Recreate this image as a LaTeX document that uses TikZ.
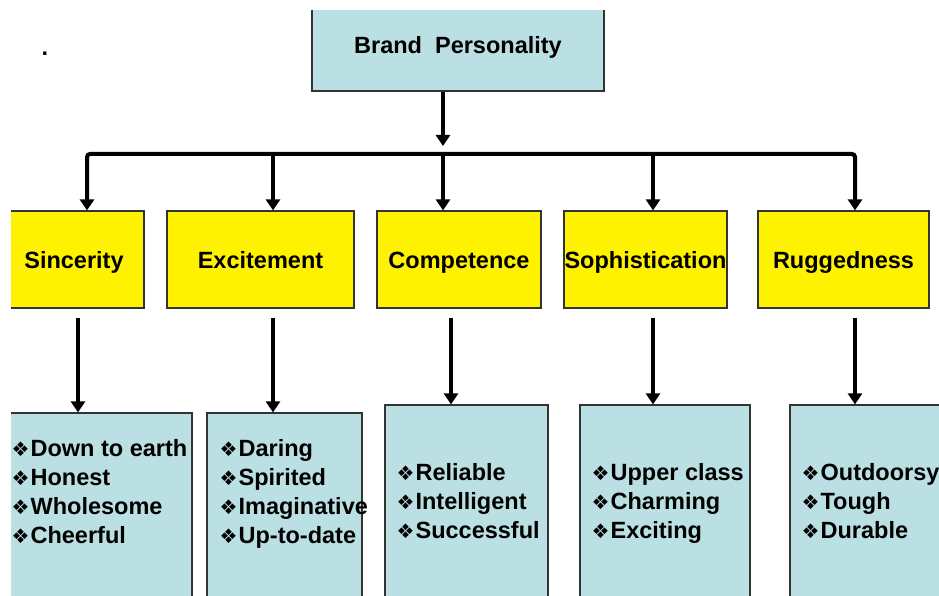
\documentclass[tikz,border=0pt]{standalone}
\usepackage{fontspec}
\setmainfont{Liberation Sans}
\newfontfamily\dingfont{DejaVu Sans}
\usetikzlibrary{positioning}
\usetikzlibrary{arrows.meta}
\definecolor{paleblue}{RGB}{187,224,227}
\definecolor{boxline}{RGB}{51,51,51}
\newcommand{\trait}{\makebox[19pt][l]{\dingfont\fontsize{20}{20}\selectfont ❖}}
\tikzset{
  x=1pt, y=-1pt,
  txt/.style = {font=\bfseries\fontsize{23.5}{29}\selectfont},
  box/.style = {rectangle, draw=boxline, line width=1.2pt, inner sep=0pt},
  head/.style = {box, txt, fill=paleblue, text height=17pt, text depth=0pt},
  dim/.style = {box, txt, fill=yellow, text height=17pt, text depth=0pt,
    minimum height=97pt},
  list/.style = {box, fill=paleblue},
  % anchor sits on the last line of the list
  items/.style = {txt, align=left, inner sep=0pt, anchor=base west},
  link/.style = {line width=4pt, -{Triangle[width=14pt,length=11pt]}},
}

\begin{document}
\begin{tikzpicture}
\useasboundingbox (0,0) rectangle (939,596);
\clip (11,11) rectangle (939,596);
\node[txt] (dot) at (45,54) {.};
\node[head, minimum width=292pt, minimum height=91pt] (BP) at (458,45.5) {Brand\ \ Personality};

% the five dimensions
\node[dim, minimum width=140pt] (S1) at (74,259.5) {Sincerity};
\node[dim, minimum width=187pt] (S2) at (260.5,259.5) {Excitement};
\node[dim, minimum width=164pt] (S3) at (459,259.5) {Competence};
\node[dim, minimum width=163pt] (S4) at (645.5,259.5) {Sophistication};
\node[dim, minimum width=171pt] (S5) at (843.5,259.5) {Ruggedness};

% facet boxes
\node[list, minimum width=192pt, minimum height=197pt] (T1) at (96,511.5) {};
\node[list, minimum width=155pt, minimum height=197pt] (T2) at (284.5,511.5) {};
\node[list, minimum width=163pt, minimum height=205pt] (T3) at (466.5,507.5) {};
\node[list, minimum width=170pt, minimum height=205pt] (T4) at (665,507.5) {};
\node[list, minimum width=170pt, minimum height=205pt] (T5) at (875,507.5) {};

\node[items, xshift=12pt, yshift=-131pt] (I1) at (T1.north west)
  {\trait Down to earth\\ \trait Honest\\ \trait Wholesome\\ \trait Cheerful};
\node[items, xshift=13pt, yshift=-131pt] (I2) at (T2.north west)
  {\trait Daring\\ \trait Spirited\\ \trait Imaginative\\ \trait Up-to-date};
\node[items, xshift=12pt, yshift=-134pt] (I3) at (T3.north west)
  {\trait Reliable\\ \trait Intelligent\\ \trait Successful};
\node[items, xshift=12pt, yshift=-134pt] (I4) at (T4.north west)
  {\trait Upper class\\ \trait Charming\\ \trait Exciting};
\node[items, xshift=12pt, yshift=-134pt] (I5) at (T5.north west)
  {\trait Outdoorsy\\ \trait Tough\\ \trait Durable};

\coordinate (b1) at (87,154);
\coordinate (b2) at (273,154);
\coordinate (b3) at (443,154);
\coordinate (b4) at (653,154);
\coordinate (b5) at (855,154);
\coordinate (c1) at (78,0);
\coordinate (c3) at (451,0);

\draw[link, shorten >=8pt] (BP.south -| b3) -- (b3);
\draw[link, rounded corners=3pt] (b3) -| (S1.north -| b1);
\draw[link, rounded corners=3pt] (b3) -| (S5.north -| b5);
\draw[link] (b2) -- (S2.north -| b2);
\draw[link] (b3) -- (S3.north -| b3);
\draw[link] (b4) -- (S4.north -| b4);

\draw[link, shorten <=9pt] (S1.south -| c1) -- (T1.north -| c1);
\draw[link, shorten <=9pt] (S2.south -| b2) -- (T2.north -| b2);
\draw[link, shorten <=9pt] (S3.south -| c3) -- (T3.north -| c3);
\draw[link, shorten <=9pt] (S4.south -| b4) -- (T4.north -| b4);
\draw[link, shorten <=9pt] (S5.south -| b5) -- (T5.north -| b5);
\end{tikzpicture}
\end{document}
